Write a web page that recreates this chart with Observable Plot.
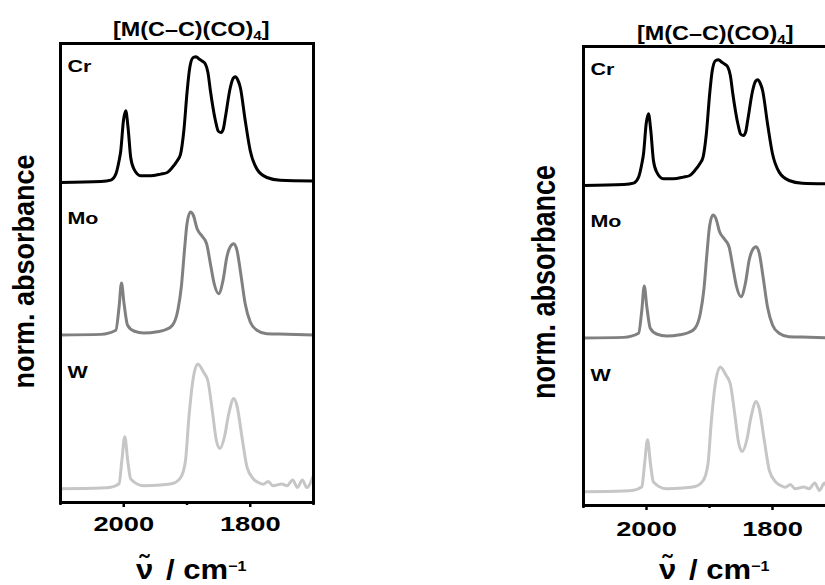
<!DOCTYPE html>
<html><head><meta charset="utf-8">
<script src="https://cdn.jsdelivr.net/npm/d3@7"></script>
<script src="https://cdn.jsdelivr.net/npm/@observablehq/plot@0.6"></script>
<style>
html,body{margin:0;padding:0;background:#fff;}
#chart{position:relative;width:825px;height:585px;overflow:hidden;background:#fff;}
#chart svg{position:absolute;top:0;}
</style></head><body><div id="chart"></div>
<script>
// ---- data (normalised absorbance, 0 = baseline, 1 = strongest band) ----
const metals = ["Cr", "Mo", "W"];
const metalOffsets = [2.45, 1.23, 0];
const metalColors = ["#000000", "#808080", "#c6c6c6"];

const crWavenumber = [2100, 2036, 2020.5, 2012.6, 2007.4, 2004.7, 2000.5, 1996.9, 1993.2, 1989, 1983.8, 1973.2, 1957.5, 1941.7, 1931.2, 1923.3, 1915.4, 1910.2, 1905, 1899.7, 1895.6, 1890.2, 1885.5, 1881.4, 1875.6, 1870.9, 1866.9, 1863, 1855, 1850.4, 1846, 1842.5, 1839.4, 1831.5, 1826.8, 1823.6, 1819.7, 1815.7, 1807.9, 1800, 1789.4, 1773.7, 1752.8, 1700];
const crAbs = [0, 0.008, 0.019, 0.067, 0.174, 0.254, 0.494, 0.574, 0.44, 0.2, 0.107, 0.054, 0.054, 0.067, 0.08, 0.12, 0.174, 0.227, 0.414, 0.734, 0.92, 1.0, 1.006, 0.99, 0.97, 0.947, 0.88, 0.734, 0.494, 0.41, 0.4, 0.43, 0.52, 0.76, 0.835, 0.846, 0.82, 0.76, 0.494, 0.254, 0.107, 0.04, 0.018, 0.012];

const moWavenumber = [2100, 2036, 2012.6, 2007.4, 2003.6, 1999.5, 1994, 1984, 1968, 1947, 1934, 1923, 1914.5, 1909, 1904, 1900, 1894.5, 1890, 1884, 1876, 1869, 1863, 1857, 1850, 1843, 1837, 1830, 1826, 1821, 1815, 1808, 1800, 1789.5, 1774, 1742, 1700];
const moAbs = [0, 0.005, 0.038, 0.224, 0.416, 0.25, 0.078, 0.032, 0.016, 0.026, 0.042, 0.078, 0.198, 0.384, 0.678, 0.89, 0.984, 0.958, 0.85, 0.79, 0.73, 0.57, 0.41, 0.33, 0.438, 0.624, 0.718, 0.73, 0.678, 0.49, 0.25, 0.104, 0.038, 0.01, 0.006, 0];

const wWavenumber = [2100, 2036, 2020.5, 2007.4, 2003, 1998.4, 1993.7, 1989, 1968.5, 1941.7, 1923, 1910, 1902.4, 1897, 1890, 1883, 1873.5, 1867, 1860, 1853.5, 1848, 1841, 1834, 1826, 1821, 1813, 1805, 1795, 1787, 1779.5, 1771.7, 1764, 1750, 1742, 1732.8, 1725.5, 1717.6, 1710.7, 1700.3];
const wAbs = [0, 0.006, 0.012, 0.04, 0.224, 0.416, 0.224, 0.078, 0.024, 0.03, 0.042, 0.09, 0.224, 0.57, 0.89, 0.998, 0.93, 0.864, 0.624, 0.384, 0.322, 0.41, 0.6, 0.722, 0.664, 0.41, 0.17, 0.078, 0.05, 0.036, 0.058, 0.024, 0.038, 0.024, 0.07, 0.01, 0.07, 0.01, 0.104];

const xDomain = [2100, 1700];
const labeledTicks = [2000, 1800];
const minorTicks = [2100, 1900, 1700];
const titleMain = "[M(C–C)(CO)";
const titleSub = "4";
const yTitle = "norm. absorbance";

// ---- build tables ----
const spectra = [
  {w: crWavenumber, a: crAbs},
  {w: moWavenumber, a: moAbs},
  {w: wWavenumber, a: wAbs}
].map((s, i) => s.w.map((w, j) => ({w, y: metalOffsets[i] + s.a[j]})));

const FONT = "'Liberation Sans', Arial, Helvetica, sans-serif";
const panels = [
  {left: 0, width: 330, mL: 60, mR: 17, mT: 43, tickPad: 8.5, titleX: 113, titleY: 35.5, yLX: 33.5, yLY: 271.5, yLK: 1.07, xLX: 136, xLY: 578.5},
  {left: 520, width: 330, mL: 63, mR: 15, mT: 46, tickPad: 11, titleX: 117, titleY: 39.5, yLX: 35, yLY: 282, yLK: 1.2, xLX: 139, xLY: 579}
];
const FRAME_H = 459;

// horizontally stretch a text element, keeping its anchor point
function stretchText(node, k, fontSize) {
  node.setAttribute("font-size", fontSize);
  let t = node.getAttribute("transform") || "";
  const xa = node.getAttribute("x");
  if (xa !== null && /^-?[\d.]+$/.test(xa)) {
    t += ` translate(${xa},0)`;
    node.removeAttribute("x");
  }
  node.setAttribute("transform", t + ` scale(${k},1)`);
}

const chart = document.getElementById("chart");
for (const p of panels) {
  const svgNode = Plot.plot({
    width: p.width,
    height: 585,
    marginLeft: p.mL, marginRight: p.mR, marginTop: p.mT, marginBottom: 585 - p.mT - FRAME_H,
    x: {domain: xDomain, axis: null, label: null},
    y: {domain: [-0.11, 3.562], axis: null, label: null},
    style: {fontFamily: FONT, fontWeight: "bold", fontSize: "20px", background: "transparent", color: "black", overflow: "visible"},
    marks: [
      ...spectra.map((rows, i) => Plot.line(rows, {x: "w", y: "y", stroke: metalColors[i], strokeWidth: 3, curve: "monotone-x", strokeLinejoin: "round"})),
      Plot.frame({stroke: "black", strokeWidth: 3}),
      Plot.axisX(labeledTicks, {anchor: "bottom", tickSize: 5, tickPadding: p.tickPad, strokeWidth: 2.5, fontSize: 21, label: null, tickFormat: d => String(d)}),
      Plot.axisX(minorTicks, {anchor: "bottom", tickSize: 3, strokeWidth: 2.5, label: null, tickFormat: () => ""}),
      Plot.text(metals, {x: () => xDomain[0], y: (d, i) => metalOffsets[i] + 0.885, text: d => d, textAnchor: "start", lineAnchor: "bottom", dx: 7, fontSize: 16, fontWeight: "bold", fill: "black"})
    ]
  });
  svgNode.style.left = p.left + "px";
  chart.appendChild(svgNode);
  const svg = d3.select(svgNode);

  svg.selectAll("text").each(function () {
    const s = this.textContent;
    if (labeledTicks.map(String).includes(s)) stretchText(this, 1.3, 21);
    else if (metals.includes(s)) stretchText(this, 1.3, 16.5);
  });

  // title
  const t = svg.append("text").attr("transform", `translate(${p.titleX},${p.titleY}) scale(1.17,1)`)
    .attr("text-anchor", "start").attr("font-size", 20).attr("font-weight", "bold").attr("fill", "black");
  t.append("tspan").text(titleMain);
  t.append("tspan").attr("font-size", 13).attr("dy", 4).text(titleSub);
  t.append("tspan").attr("dy", -4).text("]");

  // y title
  svg.append("text").attr("transform", `translate(${p.yLX},${p.yLY}) rotate(-90) scale(1,${p.yLK})`)
    .attr("text-anchor", "middle").attr("font-size", 27).attr("font-weight", "bold").attr("fill", "black").text(yTitle);

  // x title
  const xl = svg.append("text").attr("transform", `translate(${p.xLX},${p.xLY}) scale(1.15,1)`)
    .attr("text-anchor", "start").attr("font-size", 27).attr("font-weight", "bold").attr("fill", "black");
  xl.append("tspan").text("\u03bd\u0303");
  xl.append("tspan").attr("dx", 11).text("/ cm");
  xl.append("tspan").attr("font-size", 14).attr("dy", -8).text("\u22121");
}
</script></body></html>
